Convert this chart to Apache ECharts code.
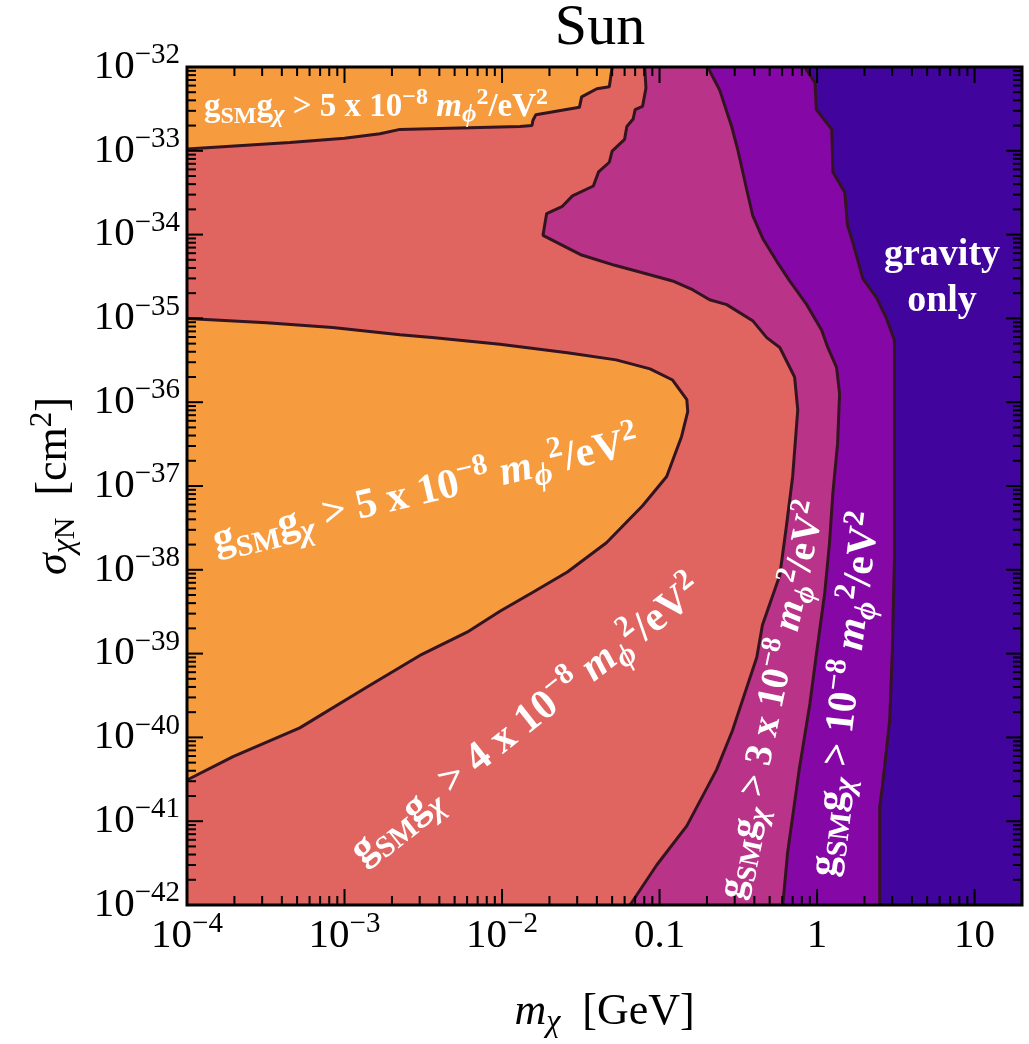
<!DOCTYPE html>
<html><head><meta charset="utf-8">
<script src="https://cdn.jsdelivr.net/npm/echarts@6/dist/echarts.min.js"></script>
<style>html,body{margin:0;padding:0;background:#fff}#c{width:1029px;height:1044px}</style>
</head><body><div id="c"></div>
<script>
// ---------- axis ranges & ticks ----------
const X_RANGE = [1e-4, 20];          // m_chi [GeV]
const Y_RANGE = [1e-42, 1e-32];      // sigma [cm^2]
const xTickValues = [1e-4, 1e-3, 1e-2, 0.1, 1, 10];
const xTickLabels = [['10','−4'],['10','−3'],['10','−2'],['0.1',''],['1',''],['10','']];
const yTickValues = [1e-42,1e-41,1e-40,1e-39,1e-38,1e-37,1e-36,1e-35,1e-34,1e-33,1e-32];
const yTickLabels = [['10','−42'],['10','−41'],['10','−40'],['10','−39'],['10','−38'],['10','−37'],['10','−36'],['10','−35'],['10','−34'],['10','−33'],['10','−32']];

// ---------- contour boundaries [m_chi (GeV), sigma (cm^2)] ----------
const orangeTopEdge = [[1e-4,1.05e-33],[4.5e-4,1.26e-33],[1.0e-3,1.41e-33],[1.68e-3,1.6e-33],[2.25e-3,1.8e-33],[1.3e-2,1.95e-33],[1.55e-2,2.0e-33],[1.57e-2,2.3e-33],[1.64e-2,2.7e-33],[3.1e-2,3.3e-33],[3.2e-2,4.4e-33],[4.0e-2,5.5e-33],[4.8e-2,5.8e-33],[5.0e-2,1e-32]];
const orangeBulgeEdge = [[1e-4,1.0e-35],[3.2e-4,8.9e-36],[8.4e-4,7.8e-36],[2.25e-3,6.4e-36],[3.6e-3,5.9e-36],[9.7e-3,4.9e-36],[2.6e-2,3.9e-36],[5.3e-2,3.2e-36],[8.7e-2,2.5e-36],[0.121,1.84e-36],[0.149,1.07e-36],[0.151,7.7e-37],[0.138,3.9e-37],[0.111,1.3e-37],[7.8e-2,5.8e-38],[4.6e-2,2.1e-38],[2.6e-2,9.4e-39],[1.57e-2,5.4e-39],[9.7e-3,3.2e-39],[6.0e-3,1.8e-39],[3.1e-3,9.8e-40],[1.39e-3,4.0e-40],[5.2e-4,1.3e-40],[1.96e-4,5.9e-41],[1e-4,3.1e-41]];
const magentaEdge = [[8.05e-2,1e-32],[8.2e-2,5.6e-33],[7.8e-2,3.4e-33],[7.0e-2,3.1e-33],[6.8e-2,2.4e-33],[6.2e-2,1.95e-33],[6.0e-2,1.37e-33],[5.0e-2,9.9e-34],[4.8e-2,7.3e-34],[4.1e-2,5.6e-34],[3.8e-2,3.8e-34],[2.8e-2,2.9e-34],[2.4e-2,2.15e-34],[1.92e-2,1.78e-34],[1.82e-2,9.8e-35],[3.2e-2,5.7e-35],[5.2e-2,4.3e-35],[7.8e-2,3.5e-35],[0.121,2.8e-35],[0.162,2.2e-35],[0.208,1.67e-35],[0.267,1.46e-35],[0.39,9.4e-36],[0.479,5.9e-36],[0.58,4.5e-36],[0.72,2.0e-36],[0.754,8.1e-37],[0.70,1.3e-37],[0.64,3.4e-38],[0.58,8.6e-39],[0.45,2.2e-39],[0.414,9.0e-40],[0.29,1.2e-40],[0.23,4.1e-41],[0.149,8.8e-42],[0.096,3.0e-42],[0.065,1e-42]];
const purpleEdge = [[0.202,1e-32],[0.241,5.3e-33],[0.287,1.95e-33],[0.313,1.05e-33],[0.357,3.5e-34],[0.39,1.7e-34],[0.452,9.0e-35],[0.555,4.8e-35],[0.67,2.8e-35],[0.86,1.46e-35],[1.07,7.2e-36],[1.17,4.5e-36],[1.33,2.6e-36],[1.39,1.26e-36],[1.35,3.2e-37],[1.26,8.3e-38],[1.20,2.1e-38],[1.12,5.4e-39],[0.99,9.8e-40],[0.90,2.5e-40],[0.77,4.1e-41],[0.65,4.2e-42],[0.606,1e-42]];
const gravityEdge = [[0.834,1e-32],[0.97,6.5e-33],[0.99,3.1e-33],[1.24,1.8e-33],[1.26,5.6e-34],[1.5,3.2e-34],[1.56,1.3e-34],[1.68,8.3e-35],[1.95,3.0e-35],[2.39,1.76e-35],[2.76,1.0e-35],[3.1,5.5e-36],[3.1,1.4e-38],[3.0,9.8e-40],[2.89,1.6e-40],[2.6,2.6e-41],[2.5,1.5e-41],[2.5,1e-42]];

// ---------- styles ----------
const C_ORANGE = '#f69b3e', C_SALMON = '#e0645f', C_MAGENTA = '#b93388', C_PURPLE = '#8508a6', C_DARK = '#41049d', C_LINE = '#341420';
const SERIF = "'Liberation Serif','DejaVu Serif',serif";

const lg = v => Math.log10(v);
const toLog = p => [lg(p[0]), lg(p[1])];

function fillSeries(name, edge, corners, color, z) {
  const pts = edge.concat(corners);
  return {
    type: 'custom', name, coordinateSystem: 'cartesian2d', z, silent: true, animation: false,
    data: pts.map(toLog),
    renderItem: (params, api) => {
      if (params.dataIndex !== 0) return null;
      const poly = [];
      for (let i = 0; i < pts.length; i++) poly.push(api.coord([api.value(0, i), api.value(1, i)]));
      return { type: 'polygon', shape: { points: poly }, style: { fill: color } };
    }
  };
}
function lineSeries(name, edge) {
  return { type: 'line', name, data: edge.map(toLog), symbol: 'none', showSymbol: false, silent: true,
    animation: false, z: 8, lineStyle: { color: C_LINE, width: 3 }, clip: true };
}

const MAJ = 16, MIN = 9;
const frameSeries = {
  type: 'custom', coordinateSystem: 'cartesian2d', z: 20, silent: true, clip: false, animation: false,
  data: [[lg(X_RANGE[0]), lg(Y_RANGE[0])]],
  renderItem: (params, api) => {
    const x0 = lg(X_RANGE[0]), x1 = lg(X_RANGE[1]), y0 = lg(Y_RANGE[0]), y1 = lg(Y_RANGE[1]);
    const bl = api.coord([x0, y0]), tr = api.coord([x1, y1]);
    const ch = [];
    const ln = (a, b, c, d) => ({ type: 'line', shape: { x1: a, y1: b, x2: c, y2: d }, style: { stroke: '#000', lineWidth: 2 } });
    for (let e = Math.floor(x0); e <= Math.ceil(x1); e++) for (let m = 1; m <= 9; m++) {
      const v = lg(m) + e;
      if (v < x0 - 1e-9 || v > x1 + 1e-9) continue;
      const len = m === 1 ? MAJ : MIN;
      const px = api.coord([v, y0])[0];
      ch.push(ln(px, bl[1], px, bl[1] - len), ln(px, tr[1], px, tr[1] + len));
    }
    for (let e = Math.floor(y0); e <= Math.ceil(y1); e++) for (let m = 1; m <= 9; m++) {
      const v = lg(m) + e;
      if (v < y0 - 1e-9 || v > y1 + 1e-9) continue;
      const len = m === 1 ? MAJ : MIN;
      const py = api.coord([x0, v])[1];
      ch.push(ln(bl[0], py, bl[0] + len, py), ln(tr[0], py, tr[0] - len, py));
    }
    ch.push({ type: 'rect', shape: { x: bl[0], y: tr[1], width: tr[0] - bl[0], height: bl[1] - tr[1] },
      style: { fill: null, stroke: '#000', lineWidth: 3 } });
    return { type: 'group', children: ch };
  }
};

function tickFmt(values, labels) {
  return v => {
    for (let i = 0; i < values.length; i++) if (Math.abs(lg(values[i]) - v) < 1e-6) {
      const [b, e] = labels[i];
      return e ? `{b|${b}}{e|${e}}` : `{b|${b}}`;
    }
    return '';
  };
}
const tickRich = {
  b: { fontFamily: SERIF, fontSize: 41, lineHeight: 52, color: '#000' },
  e: { fontFamily: SERIF, fontSize: 29, lineHeight: 29, verticalAlign: 'top', color: '#000' }
};
const NS = 44;
const nameRich = {
  n: { fontFamily: SERIF, fontSize: NS, lineHeight: 54, color: '#000' },
  i: { fontFamily: SERIF, fontSize: NS, lineHeight: 54, fontStyle: 'italic', color: '#000' },
  subi: { fontFamily: SERIF, fontSize: 32, lineHeight: 35, fontStyle: 'italic', verticalAlign: 'bottom', color: '#000' },
  subn: { fontFamily: SERIF, fontSize: 30, lineHeight: 44, verticalAlign: 'bottom', color: '#000' },
  sup: { fontFamily: SERIF, fontSize: 31, lineHeight: 31, verticalAlign: 'top', color: '#000' }
};

function contourRich(s) {
  const base = { fontFamily: SERIF, fontWeight: 'bold', fill: '#fff', color: '#fff' };
  return {
    n: Object.assign({}, base, { fontSize: s, lineHeight: Math.round(s * 1.3) }),
    ni: Object.assign({}, base, { fontSize: s, lineHeight: Math.round(s * 1.3), fontStyle: 'italic' }),
    sm: Object.assign({}, base, { fontSize: Math.round(s * 0.72), lineHeight: Math.round(s * 1.05), verticalAlign: 'bottom' }),
    subi: Object.assign({}, base, { fontSize: Math.round(s * 0.75), lineHeight: Math.round(s * 0.85), verticalAlign: 'bottom', fontStyle: 'italic' }),
    sup: Object.assign({}, base, { fontSize: Math.round(s * 0.72), lineHeight: Math.round(s * 0.72), verticalAlign: 'top' })
  };
}
function couplingText(factor) {
  return '{n|g}{sm|SM}{n|g}{subi|χ}{n| > ' + factor + '10}{sup|−8}{n| }{ni|m}{subi|ϕ}{sup|2}{n|/eV}{sup|2}';
}
function contourLabel(x, y, deg, size, text) {
  return { type: 'text', x, y, rotation: deg * Math.PI / 180, z: 100, silent: true,
    style: { text, align: 'center', verticalAlign: 'middle', rich: contourRich(size), fill: '#fff',
      font: `bold ${size}px ${SERIF}` } };
}

const X_MIN = X_RANGE[0], X_MAX = X_RANGE[1], Y_MIN = Y_RANGE[0], Y_MAX = Y_RANGE[1];
const rightCorners = [[X_MAX, Y_MIN], [X_MAX, Y_MAX]];

const chart = echarts.init(document.getElementById('c'), null, { renderer: 'canvas' });
chart.setOption({
  animation: false,
  backgroundColor: '#fff',
  title: { text: 'Sun', left: 600, top: 0, textAlign: 'center', padding: 0,
    textStyle: { fontFamily: SERIF, fontSize: 58, lineHeight: 58, fontWeight: 'normal', color: '#000' } },
  grid: { left: 187, top: 67, right: 7, bottom: 131, show: true, backgroundColor: C_SALMON, borderWidth: 0 },
  xAxis: {
    type: 'value', min: lg(X_MIN), max: lg(X_MAX), interval: 1,
    axisLine: { show: false }, axisTick: { show: false }, splitLine: { show: false },
    axisLabel: { formatter: tickFmt(xTickValues, xTickLabels), rich: tickRich, margin: 5, showMaxLabel: true, showMinLabel: true },
    name: '{i|m}{subi|χ}{n|  [GeV]}', nameLocation: 'middle', nameGap: 80,
    nameTextStyle: { rich: nameRich }
  },
  yAxis: {
    type: 'value', min: Math.round(lg(Y_MIN)), max: Math.round(lg(Y_MAX)), interval: 1,
    axisLine: { show: false }, axisTick: { show: false }, splitLine: { show: false },
    axisLabel: { formatter: tickFmt(yTickValues, yTickLabels), rich: tickRich, margin: 7, showMaxLabel: true, showMinLabel: true },
    name: '{i|σ}{subi|χ}{subn|N}{n|  [cm}{sup|2}{n|]}', nameLocation: 'middle', nameGap: 106, nameRotate: 90,
    nameTextStyle: { rich: nameRich }
  },
  series: [
    fillSeries('orangeTop', orangeTopEdge, [[X_MIN, Y_MAX]], C_ORANGE, 2),
    fillSeries('orangeBulge', orangeBulgeEdge, [], C_ORANGE, 2),
    fillSeries('magenta', magentaEdge, rightCorners, C_MAGENTA, 3),
    fillSeries('purple', purpleEdge, rightCorners, C_PURPLE, 4),
    fillSeries('gravity', gravityEdge, rightCorners, C_DARK, 5),
    lineSeries('l1', orangeTopEdge),
    lineSeries('l2', orangeBulgeEdge),
    lineSeries('l3', magentaEdge),
    lineSeries('l4', purpleEdge),
    lineSeries('l5', gravityEdge),
    frameSeries
  ],
  graphic: [
    contourLabel(376, 107, 0, 33, couplingText('5 x ')),
    contourLabel(426, 492, 13.2, 42, couplingText('5 x ')),
    contourLabel(527, 721, 38.3, 42, couplingText('4 x ')),
    contourLabel(773, 700, 78.2, 39, couplingText('3 x ')),
    contourLabel(846, 694, 83.1, 41, couplingText('')),
    { type: 'text', x: 942, y: 278, z: 100, silent: true,
      style: { text: 'gravity\nonly', align: 'center', verticalAlign: 'middle', fill: '#fff',
        font: `bold 38px ${SERIF}`, lineHeight: 46 } }
  ]
});
</script></body></html>
